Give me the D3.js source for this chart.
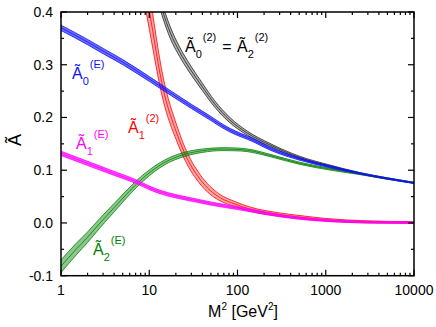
<!DOCTYPE html>
<meta charset="utf-8">
<style>
body { margin: 0; background: #fff; }
svg { display: block; }
text { font-family: "Liberation Sans", Arial, sans-serif; }
</style>
<body>
<svg id="chart" width="436" height="327"></svg>
<script src="https://cdn.jsdelivr.net/npm/d3@7"></script>
<script>

// M^2 positions, central values, half band widths
var a0eM2  = [1, 2, 3, 5, 10, 14.3, 20, 30, 50, 63, 82, 150, 233, 511, 1117, 2445, 10000];
var a0eVal = [0.370, 0.343, 0.326, 0.305, 0.273, 0.256, 0.240, 0.221, 0.198, 0.187, 0.176, 0.157, 0.141, 0.121, 0.1065, 0.094, 0.076];
var a0eErr = [0.005, 0.005, 0.005, 0.0048, 0.0045, 0.0044, 0.0042, 0.004, 0.0038, 0.0036, 0.0034, 0.003, 0.0027, 0.0022, 0.0018, 0.0014, 0.001];

var a1eM2  = [1, 2, 4, 7.2, 10.2, 37.6, 139, 215, 500, 1200, 3000, 10000];
var a1eVal = [0.132, 0.113, 0.094, 0.078, 0.066, 0.041, 0.024, 0.018, 0.009, 0.004, 0.0015, 0.0005];
var a1eErr = [0.004, 0.004, 0.0038, 0.0036, 0.0034, 0.003, 0.0026, 0.0024, 0.002, 0.0018, 0.0016, 0.0015];

var a2eM2  = [1, 1.5, 2, 2.77, 4, 5.5, 7.2, 10, 15, 25, 40, 68.6, 110, 150, 233, 511, 1117, 2445, 10000];
var a2eVal = [-0.082, -0.049, -0.027, 0.0, 0.029, 0.054, 0.074, 0.095, 0.115, 0.130, 0.137, 0.140, 0.139, 0.136, 0.128, 0.113, 0.102, 0.093, 0.076];
var a2eErr = [0.012, 0.011, 0.010, 0.009, 0.008, 0.007, 0.0065, 0.0055, 0.0045, 0.004, 0.0032, 0.0028, 0.0026, 0.0025, 0.0022, 0.002, 0.0017, 0.0014, 0.001];

var a1tM2  = [9, 10, 14.3, 20.5, 25.4, 37.6, 48.8, 63.4, 93.8, 138.6, 303, 511, 1000, 3000, 10000];
var a1tVal = [0.45, 0.404, 0.256, 0.170, 0.131, 0.083, 0.062, 0.048, 0.0357, 0.0262, 0.0157, 0.011, 0.006, 0.002, 0.001];
var a1tErr = [0.04, 0.036, 0.022, 0.015, 0.012, 0.009, 0.0075, 0.006, 0.0048, 0.004, 0.0033, 0.003, 0.0025, 0.002, 0.0015];

var a02tM2  = [12, 14.3, 17.2, 22, 29, 40, 55, 82, 130, 233, 511, 1117, 2445, 10000];
var a02tVal = [0.445, 0.400, 0.362, 0.325, 0.292, 0.258, 0.226, 0.195, 0.170, 0.148, 0.124, 0.108, 0.094, 0.076];
var a02tErr = [0.014, 0.012, 0.011, 0.009, 0.008, 0.007, 0.006, 0.005, 0.0038, 0.0028, 0.0022, 0.0018, 0.0014, 0.001];

var xTicks = [1, 10, 100, 1000, 10000];
var yTicks = [-0.1, 0.0, 0.1, 0.2, 0.3, 0.4];

var svg = d3.select("#chart");
var pl = 61, pr = 414, pt = 12, pb = 275.7;

var x = d3.scaleLog().domain([1, 10000]).range([pl, pr]);
var y = d3.scaleLinear().domain([-0.1, 0.4]).range([pb, pt]);

svg.append("clipPath").attr("id", "plotclip")
  .append("rect").attr("x", pl).attr("y", pt)
  .attr("width", pr - pl).attr("height", pb - pt);

var plot = svg.append("g").attr("clip-path", "url(#plotclip)");

function band(m2, val, err, color, fillOp) {
  var pts = m2.map(function(d, i) { return {m: d, v: val[i], e: err[i]}; });
  var area = d3.area().curve(d3.curveMonotoneX)
    .x(function(d) { return x(d.m); })
    .y0(function(d) { return y(d.v - d.e); })
    .y1(function(d) { return y(d.v + d.e); });
  var line = function(off) {
    return d3.line().curve(d3.curveMonotoneX)
      .x(function(d) { return x(d.m); })
      .y(function(d) { return y(d.v + off * d.e); });
  };
  var g = plot.append("g");
  g.append("path").datum(pts).attr("d", area)
    .attr("fill", color).attr("fill-opacity", fillOp);
  [-1, 0, 1].forEach(function(o) {
    g.append("path").datum(pts).attr("d", line(o))
      .attr("fill", "none").attr("stroke", color)
      .attr("stroke-width", 0.8);
  });
}

band(a1tM2, a1tVal, a1tErr, "#ff0000", 0.35);
band(a02tM2, a02tVal, a02tErr, "#222222", 0.35);
band(a2eM2, a2eVal, a2eErr, "#008000", 0.45);
band(a0eM2, a0eVal, a0eErr, "#1010ff", 0.6);
band(a1eM2, a1eVal, a1eErr, "#ff00ff", 0.7);

// frame
svg.append("rect").attr("x", pl).attr("y", pt)
  .attr("width", pr - pl).attr("height", pb - pt)
  .attr("fill", "none").attr("stroke", "#000").attr("stroke-width", 1.5);

// ticks, pointing inward on all four sides
var ax = svg.append("g").attr("stroke", "#000").attr("stroke-width", 1.2);
var xMinor = [];
for (var p = 0; p < 4; p++) for (var k = 2; k < 10; k++) xMinor.push(k * Math.pow(10, p));
xTicks.forEach(function(t) {
  ax.append("line").attr("x1", x(t)).attr("x2", x(t)).attr("y1", pb).attr("y2", pb - 6);
  ax.append("line").attr("x1", x(t)).attr("x2", x(t)).attr("y1", pt).attr("y2", pt + 6);
});
xMinor.forEach(function(t) {
  ax.append("line").attr("x1", x(t)).attr("x2", x(t)).attr("y1", pb).attr("y2", pb - 3);
  ax.append("line").attr("x1", x(t)).attr("x2", x(t)).attr("y1", pt).attr("y2", pt + 3);
});
d3.range(-0.1, 0.401, 0.05).forEach(function(t, i) {
  var len = i % 2 === 0 ? 6 : 3;
  ax.append("line").attr("x1", pl).attr("x2", pl + len).attr("y1", y(t)).attr("y2", y(t));
  ax.append("line").attr("x1", pr).attr("x2", pr - len).attr("y1", y(t)).attr("y2", y(t));
});

svg.selectAll(".xl").data(xTicks).enter().append("text")
  .attr("x", function(d) { return x(d); }).attr("y", 295)
  .attr("text-anchor", "middle").attr("font-size", 14)
  .text(function(d) { return d; });

svg.selectAll(".yl").data(yTicks).enter().append("text")
  .attr("x", 53).attr("y", function(d) { return y(d) + 5; })
  .attr("text-anchor", "end").attr("font-size", 14)
  .text(function(d) { return d.toFixed(1); });

// axis titles
svg.append("text").attr("transform", "translate(21,140) rotate(-90)")
  .attr("text-anchor", "middle").attr("font-size", 18).text("Ã");

var xt = svg.append("text").attr("x", 243).attr("y", 317)
  .attr("text-anchor", "middle").attr("font-size", 16);
xt.append("tspan").text("M");
xt.append("tspan").attr("font-size", 10).attr("dy", -7).text("2");
xt.append("tspan").attr("dy", 7).text(" [GeV");
xt.append("tspan").attr("font-size", 10).attr("dy", -7).text("2");
xt.append("tspan").attr("dy", 7).text("]");

// curve labels
function label(g, xx, yy, sub, sup, color) {
  var t = g.append("text").attr("x", xx).attr("y", yy)
    .attr("font-size", 16).attr("fill", color);
  t.append("tspan").text("Ã");
  t.append("tspan").attr("font-size", 11).attr("dy", 6).text(sub);
  t.append("tspan").attr("font-size", 11).attr("dx", 1).attr("dy", -17).text(sup);
  return t;
}
label(svg, 72, 79, "0", "(E)", "#1010ff");
label(svg, 76, 149, "1", "(E)", "#ff00ff");
label(svg, 128, 133, "1", "(2)", "#ff0000");
label(svg, 93, 255, "2", "(E)", "#008000");

var bt = label(svg, 185, 52, "0", "(2)", "#000");
bt.append("tspan").attr("dy", 11).attr("dx", 6).text("= ");
bt.append("tspan").attr("dx", 1).text("Ã");
bt.append("tspan").attr("font-size", 11).attr("dy", 6).text("2");
bt.append("tspan").attr("font-size", 11).attr("dx", 1).attr("dy", -17).text("(2)");

</script>
</body>
